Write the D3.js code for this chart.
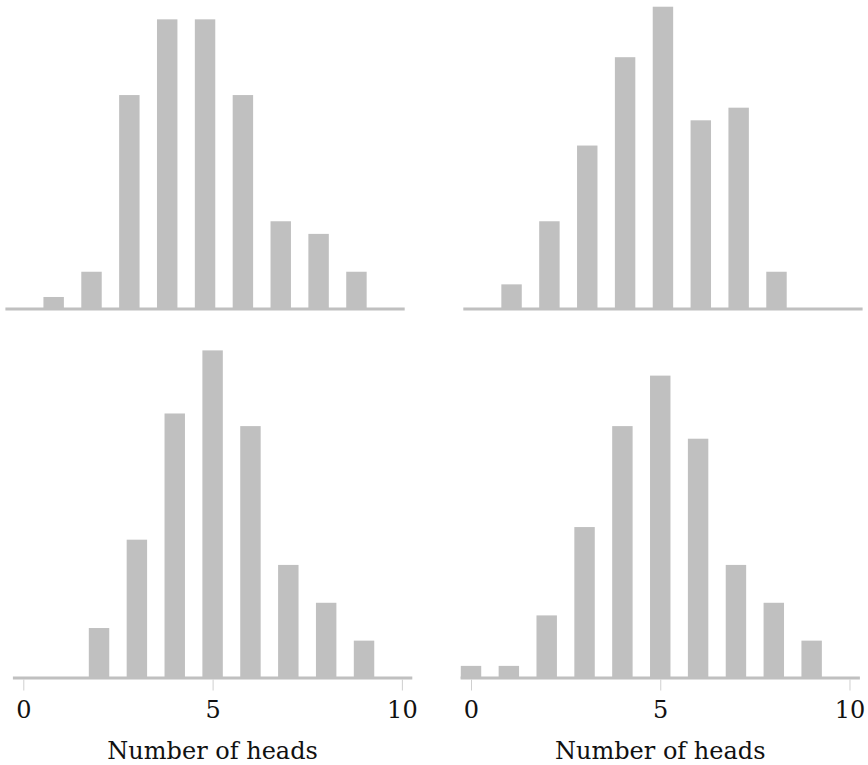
<!DOCTYPE html>
<html>
<head>
<meta charset="utf-8">
<script src="https://cdn.jsdelivr.net/npm/d3@7"></script>
<style>
  body { margin: 0; background: #fff; }
  svg { display: block; }
  .tick text { font-family: "DejaVu Serif", serif; }
</style>
</head>
<body>
<svg id="chart"></svg>
<script>
"use strict";

var width = 868
  , height = 765
  , barColor = "#c0c0c0";

// number of heads in 10 tosses, 100 trials per panel
var heads = [0, 1, 2, 3, 4, 5, 6, 7, 8, 9, 10];
var countsTopLeft = [0, 1, 3, 17, 23, 23, 17, 7, 6, 3, 0];
var countsTopRight = [0, 2, 7, 13, 20, 24, 15, 16, 3, 0, 0];
var countsBottomLeft = [0, 0, 4, 11, 21, 26, 20, 9, 6, 3, 0];
var countsBottomRight = [1, 1, 5, 12, 20, 24, 19, 9, 6, 3, 0];
var tickValues = [0, 5, 10];
var xLabel = "Number of heads";

var svg = d3.select("#chart")
  .attr("width", width)
  .attr("height", height);

// layout of the 2x2 grid
var panels = [
  { counts: countsTopLeft, x0: 5.4, x1: 404.7, y0: 309.6, axis: false },
  { counts: countsTopRight, x0: 463.3, x1: 862.6, y0: 309.6, axis: false },
  { counts: countsBottomLeft, x0: 12.9, x1: 412.3, y0: 678.5, axis: true },
  { counts: countsBottomRight, x0: 460.6, x1: 859.9, y0: 678.5, axis: true }
];

var unit = 12.62  // pixels per count
  , barWidth = 0.54;

panels.forEach(function (p) {
  var x = d3.scaleLinear().domain([-0.275, 10.275]).range([p.x0, p.x1]);
  var y = d3.scaleLinear().domain([0, 24]).range([p.y0, p.y0 - 24 * unit]);

  var g = svg.append("g");

  g.selectAll("rect")
    .data(heads.map(function (h, i) { return [h, p.counts[i]]; })
      .filter(function (d) { return d[1] > 0; }))
    .enter()
    .append("rect")
    .attr("x", function (d) { return x(d[0] - barWidth / 2); })
    .attr("width", x(barWidth) - x(0))
    .attr("y", function (d) { return y(d[1]); })
    .attr("height", function (d) { return y(0) - y(d[1]); })
    .attr("fill", barColor);

  // baseline
  g.append("line")
    .attr("x1", x.range()[0])
    .attr("x2", x.range()[1])
    .attr("y1", y(0) - 0.5)
    .attr("y2", y(0) - 0.5)
    .attr("stroke", barColor)
    .attr("stroke-width", 3);

  if (p.axis) {
    var axis = d3.axisBottom(x)
      .tickValues(tickValues)
      .tickSize(11)
      .tickPadding(0)
      .tickFormat(d3.format("d"));

    var ax = g.append("g")
      .attr("transform", "translate(0," + (y(0) + 1) + ")")
      .call(axis);

    ax.select(".domain").remove();
    ax.selectAll(".tick line")
      .attr("stroke", "#cfcfcf")
      .attr("stroke-width", 1);
    ax.selectAll(".tick text")
      .attr("y", 38)
      .attr("dy", 0)
      .attr("fill", "#111")
      .style("font-size", "24px");

    g.append("text")
      .attr("x", x(5))
      .attr("y", 759)
      .attr("text-anchor", "middle")
      .style("font-family", "'DejaVu Serif', serif")
      .style("font-size", "24px")
      .attr("fill", "#111")
      .text(xLabel);
  }
});
</script>
</body>
</html>
